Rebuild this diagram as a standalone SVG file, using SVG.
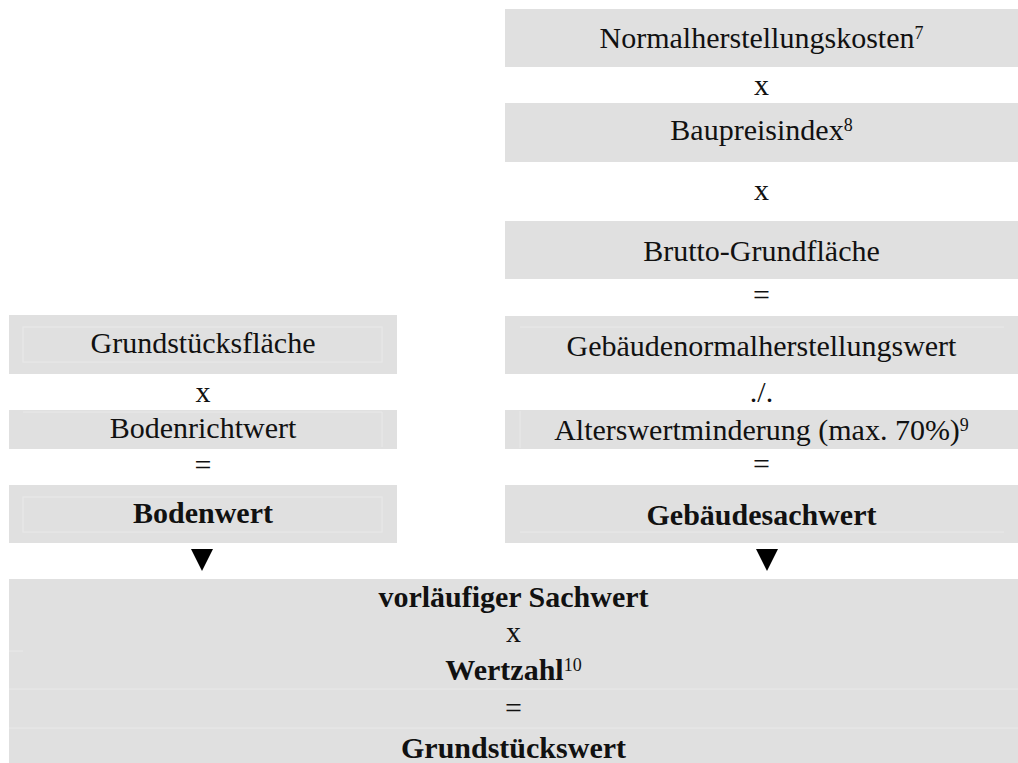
<svg xmlns="http://www.w3.org/2000/svg" width="1018" height="763" viewBox="0 0 1018 763">
<style>
.box{fill:#e0e0e0}
.cell{fill:none;stroke:#e9e9e9;stroke-width:1}
text{font-family:"Liberation Serif","Times New Roman",serif;font-size:30px;fill:#111;text-anchor:middle}
.b{font-weight:bold}
.sup{font-size:18px;font-weight:normal}
.arrow{fill:#000}
</style>
<rect width="1018" height="763" fill="#fff"/>
<g id="normalherstellungskosten">
<rect class="box" x="505" y="9" width="513" height="58"/>
<text x="761.5" y="48">Normalherstellungskosten<tspan class="sup" dy="-9">7</tspan></text>
</g>
<g id="op-x1"><text x="761.5" y="95">x</text></g>
<g id="baupreisindex">
<rect class="box" x="505" y="103" width="513" height="59"/>
<text x="761.5" y="140">Baupreisindex<tspan class="sup" dy="-9">8</tspan></text>
</g>
<g id="op-x2"><text x="761.5" y="200">x</text></g>
<g id="brutto-grundflaeche">
<rect class="box" x="505" y="221" width="513" height="58"/>
<text x="761.5" y="261">Brutto-Grundfläche</text>
</g>
<g id="op-eq1"><text x="761.5" y="305">=</text></g>
<g id="gebaeudenormalherstellungswert">
<rect class="box" x="505" y="316" width="513" height="58"/>
<line class="cell" x1="520" y1="327" x2="1004" y2="327"/>
<text x="761.5" y="356">Gebäudenormalherstellungswert</text>
</g>
<g id="op-minus"><text x="761.5" y="402">./.</text></g>
<g id="alterswertminderung">
<rect class="box" x="505" y="410" width="513" height="39"/>
<line class="cell" x1="520" y1="411" x2="520" y2="448"/>
<text x="761.5" y="440">Alterswertminderung (max. 70%)<tspan class="sup" dy="-9">9</tspan></text>
</g>
<g id="op-eq2"><text x="761.5" y="474">=</text></g>
<g id="gebaeudesachwert">
<rect class="box" x="505" y="485" width="513" height="58"/>
<line class="cell" x1="520" y1="532" x2="1004" y2="532"/>
<text class="b" x="761.5" y="525">Gebäudesachwert</text>
</g>
<g id="grundstuecksflaeche">
<rect class="box" x="9" y="315" width="388" height="59"/>
<rect class="cell" x="23" y="327" width="359" height="35"/>
<text x="203" y="353">Grundstücksfläche</text>
</g>
<g id="op-x3"><text x="203" y="402">x</text></g>
<g id="bodenrichtwert">
<rect class="box" x="9" y="410" width="388" height="39"/>
<line class="cell" x1="382" y1="412" x2="382" y2="447"/>
<line class="cell" x1="23" y1="412" x2="382" y2="412"/>
<text x="203" y="438">Bodenrichtwert</text>
</g>
<g id="op-eq3"><text x="203" y="475">=</text></g>
<g id="bodenwert">
<rect class="box" x="9" y="485" width="388" height="58"/>
<rect class="cell" x="23" y="497" width="359" height="35"/>
<text class="b" x="203" y="523">Bodenwert</text>
</g>
<g id="ergebnis">
<rect class="box" x="9" y="579" width="1009" height="184"/>
<line class="cell" x1="9" y1="651" x2="23" y2="651"/>
<line class="cell" x1="9" y1="689" x2="1018" y2="689"/>
<line class="cell" x1="9" y1="728" x2="1018" y2="728"/>
<text class="b" x="513.5" y="607">vorläufiger Sachwert</text>
<text x="513.5" y="642">x</text>
<text class="b" x="513.5" y="680">Wertzahl<tspan class="sup" dy="-9">10</tspan></text>
<text x="513.5" y="718">=</text>
<text class="b" x="513.5" y="758">Grundstückswert</text>
</g>
<g id="connectors">
<polygon class="arrow" points="191,549 213,549 202,571"/>
<polygon class="arrow" points="756,549 778,549 767,571"/>
</g>
</svg>
